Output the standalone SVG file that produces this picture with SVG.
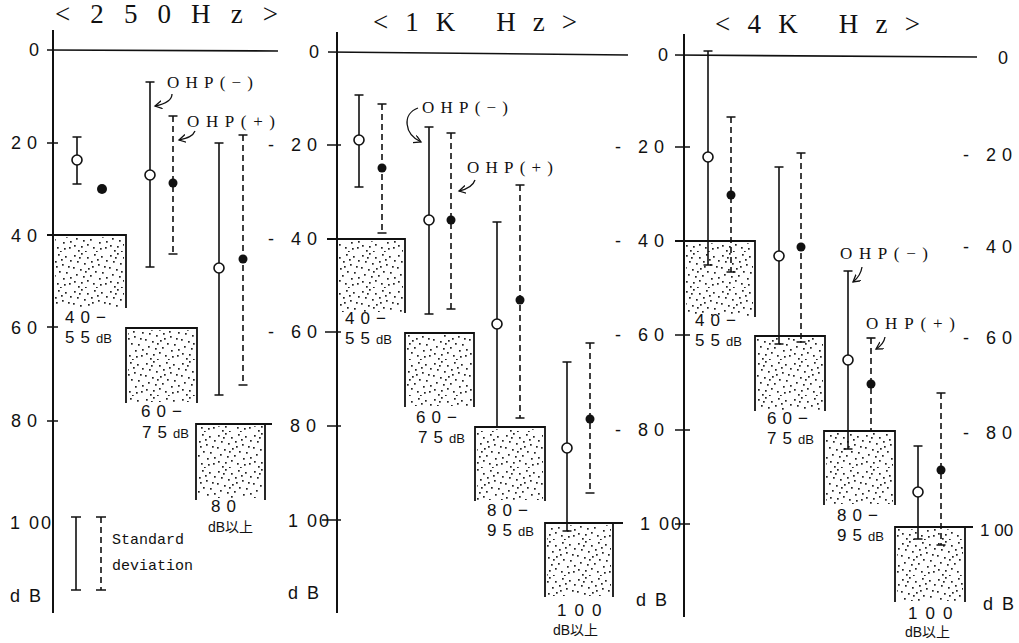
<svg xmlns="http://www.w3.org/2000/svg" width="1019" height="643" viewBox="0 0 1019 643">
<style>
.bg{fill:#fff}
.ax{stroke:#111;stroke-width:2;fill:none}
.tk{stroke:#111;stroke-width:1.6;fill:none}
.bx{stroke:#111;stroke-width:1.8;fill:none}
.sd{stroke:#111;stroke-width:1.6;fill:none}
.dd{stroke:#111;stroke-width:1.6;fill:none;stroke-dasharray:6 4}
.cap{stroke:#111;stroke-width:1.6;fill:none}
.oc{fill:#fff;stroke:#111;stroke-width:1.6}
.fc{fill:#111}
.st{fill:url(#dots)}
.num{font-family:"Liberation Sans",sans-serif;font-size:18px;letter-spacing:6px;fill:#111}
.lab{font-family:"Liberation Sans",sans-serif;font-size:17px;letter-spacing:6px;fill:#111}
.sm{font-family:"Liberation Sans","Noto Sans CJK JP",sans-serif;font-size:13px;letter-spacing:0;fill:#111}
.ttl{font-family:"Liberation Serif",serif;font-size:27px;fill:#111}
.ohp{font-family:"Liberation Serif",serif;font-size:17px;fill:#111}
.leg{font-family:"Liberation Mono",monospace;font-size:15px;fill:#111}
.arr{stroke:#111;stroke-width:1.3;fill:none;marker-end:url(#ah)}
</style>
<defs>
<pattern id="dots" patternUnits="userSpaceOnUse" width="36" height="36">
<g fill="#222">
<rect x="2" y="3" width="1.7" height="1.7"/><rect x="9" y="1" width="1.7" height="1.7"/><rect x="15" y="5" width="1.7" height="1.7"/><rect x="22" y="2" width="1.7" height="1.7"/><rect x="29" y="4" width="1.7" height="1.7"/><rect x="34" y="8" width="1.7" height="1.7"/><rect x="5" y="9" width="1.7" height="1.7"/><rect x="12" y="11" width="1.7" height="1.7"/><rect x="19" y="9" width="1.7" height="1.7"/><rect x="26" y="12" width="1.7" height="1.7"/><rect x="32" y="14" width="1.7" height="1.7"/><rect x="1" y="15" width="1.7" height="1.7"/><rect x="8" y="17" width="1.7" height="1.7"/><rect x="16" y="16" width="1.7" height="1.7"/><rect x="23" y="19" width="1.7" height="1.7"/><rect x="30" y="20" width="1.7" height="1.7"/><rect x="4" y="22" width="1.7" height="1.7"/><rect x="11" y="24" width="1.7" height="1.7"/><rect x="18" y="23" width="1.7" height="1.7"/><rect x="27" y="26" width="1.7" height="1.7"/><rect x="34" y="25" width="1.7" height="1.7"/><rect x="2" y="29" width="1.7" height="1.7"/><rect x="9" y="30" width="1.7" height="1.7"/><rect x="15" y="28" width="1.7" height="1.7"/><rect x="21" y="31" width="1.7" height="1.7"/><rect x="28" y="32" width="1.7" height="1.7"/><rect x="33" y="31" width="1.7" height="1.7"/><rect x="6" y="34" width="1.7" height="1.7"/><rect x="13" y="35" width="1.7" height="1.7"/><rect x="24" y="35" width="1.7" height="1.7"/><rect x="20" y="14" width="1.7" height="1.7"/><rect x="7" y="5" width="1.7" height="1.7"/><rect x="25" y="7" width="1.7" height="1.7"/><rect x="13" y="19" width="1.7" height="1.7"/>
</g>
</pattern>
<marker id="ah" markerUnits="userSpaceOnUse" markerWidth="10" markerHeight="10" refX="7" refY="4" orient="auto">
<path d="M0,0 L7,4 L0,8" fill="none" stroke="#111" stroke-width="1.3"/>
</marker>
</defs>
<rect class="bg" x="0" y="0" width="1019" height="643"/>

<!-- Panel 250 Hz -->
<g id="panel-250hz">
<text class="ttl" x="55" y="23" textLength="223" lengthAdjust="spacing">&lt;250Hz&gt;</text>
<g id="axis-250">
<path class="ax" d="M53,30 V613"/>
<path class="tk" d="M47,50 L278,51 M47,143 H58 M47,327 H58 M47,421 H58"/>
<text class="num" x="29" y="56">0</text>
<text class="num" x="11" y="149">20</text>
<text class="num" x="11" y="242">40</text>
<text class="num" x="11" y="334">60</text>
<text class="num" x="11" y="427">80</text>
<text class="num" x="10" y="529" style="letter-spacing:2px">1 00</text>
<text class="num" x="10" y="602" style="letter-spacing:2px">d B</text>
</g>
<g id="box-250-1">
<rect class="st" x="55" y="237" width="69" height="70"/>
<path class="bx" d="M47,235 H126 V308"/>
<text class="lab" x="65" y="323">40−</text>
<text class="lab" x="65" y="343">55<tspan class="sm">dB</tspan></text>
</g>
<g id="box-250-2">
<rect class="st" x="128" y="330" width="67" height="72"/>
<path class="bx" d="M126,403 V328 H197 V403"/>
<text class="lab" x="141" y="417">60−</text>
<text class="lab" x="142" y="438">75<tspan class="sm">dB</tspan></text>
</g>
<g id="box-250-3">
<rect class="st" x="198" y="426" width="65" height="72"/>
<path class="bx" d="M196,500 V424 H272 M265,424 V500"/>
<text class="lab" x="211" y="512">80</text>
<text class="sm" x="208" y="532" style="font-size:14px">dB以上</text>
</g>
<g id="data-250">
<path class="sd" d="M77,137 V184 M72.5,137 H81.5 M72.5,184 H81.5"/>
<circle class="oc" cx="77" cy="160" r="5"/>
<circle class="fc" cx="102" cy="189" r="5"/>
<path class="sd" d="M150,82 V267 M145.5,82 H154.5 M145.5,267 H154.5"/>
<circle class="oc" cx="150" cy="175" r="5"/>
<path class="dd" d="M173,116 V254"/><path class="cap" d="M168.5,116 H177.5 M168.5,254 H177.5"/>
<circle class="fc" cx="173" cy="183" r="4.5"/>
<path class="sd" d="M219,143 V395 M214.5,143 H223.5 M214.5,395 H223.5"/>
<circle class="oc" cx="219" cy="268" r="5"/>
<path class="dd" d="M243,135 V385"/><path class="cap" d="M238.5,135 H247.5 M238.5,385 H247.5"/>
<circle class="fc" cx="243" cy="259" r="4.5"/>
<text class="ohp" x="167" y="88" textLength="86" lengthAdjust="spacing">OHP(−)</text>
<text class="ohp" x="187" y="127" textLength="88" lengthAdjust="spacing">OHP(+)</text>
</g>
<g id="legend">
<path class="sd" d="M76,517 V590 M71,517 H81 M71,590 H81"/>
<path class="dd" d="M101,517 V590"/><path class="cap" d="M96,517 H106 M96,590 H106"/>
<text class="leg" x="112" y="544">Standard</text>
<text class="leg" x="112" y="570">deviation</text>
</g>
</g>

<!-- Panel 1K Hz -->
<g id="panel-1khz">
<text class="ttl" x="373" y="31" textLength="204" lengthAdjust="spacing">&lt;1K Hz&gt;</text>
<g id="axis-1k">
<path class="ax" d="M337,32 V613"/>
<path class="tk" d="M328,52 L628,55 M327,145 H341 M325,332 H341 M327,426 H341 M322,520 H341"/>
<text class="num" x="309" y="58">0</text>
<text class="num" x="268" y="151">- 20</text>
<text class="num" x="268" y="245">- 40</text>
<text class="num" x="268" y="338">- 60</text>
<text class="num" x="290" y="432">80</text>
<text class="num" x="288" y="527" style="letter-spacing:2px">1 00</text>
<text class="num" x="288" y="599" style="letter-spacing:2px">d B</text>
</g>
<g id="box-1k-1">
<rect class="st" x="339" y="241" width="64" height="71"/>
<path class="bx" d="M327,239 H405 V313"/>
<text class="lab" x="345" y="324">40−</text>
<text class="lab" x="345" y="344">55<tspan class="sm">dB</tspan></text>
</g>
<g id="box-1k-2">
<rect class="st" x="407" y="335" width="65" height="71"/>
<path class="bx" d="M405,407 V333 H474 V407"/>
<text class="lab" x="416" y="423">60−</text>
<text class="lab" x="418" y="443">75<tspan class="sm">dB</tspan></text>
</g>
<g id="box-1k-3">
<rect class="st" x="477" y="429" width="66" height="71"/>
<path class="bx" d="M475,501 V427 H545 V501"/>
<text class="lab" x="487" y="516">80−</text>
<text class="lab" x="487" y="536">95<tspan class="sm">dB</tspan></text>
</g>
<g id="box-1k-4">
<rect class="st" x="547" y="525" width="64" height="71"/>
<path class="bx" d="M545,597 V523 H623 M613,523 V597"/>
<text class="lab" x="557" y="616" style="letter-spacing:8px">100</text>
<text class="sm" x="553" y="635" style="font-size:14px">dB以上</text>
</g>
<g id="data-1k">
<path class="sd" d="M359,95 V187 M354.5,95 H363.5 M354.5,187 H363.5"/>
<circle class="oc" cx="359" cy="140" r="5"/>
<path class="dd" d="M382,104 V233"/><path class="cap" d="M377.5,104 H386.5 M377.5,233 H386.5"/>
<circle class="fc" cx="382" cy="168" r="4.5"/>
<path class="sd" d="M429,127 V314 M424.5,127 H433.5 M424.5,314 H433.5"/>
<circle class="oc" cx="429" cy="220" r="5"/>
<path class="dd" d="M451,133 V309"/><path class="cap" d="M446.5,133 H455.5 M446.5,309 H455.5"/>
<circle class="fc" cx="451" cy="220" r="4.5"/>
<path class="sd" d="M497,222 V427 M492.5,222 H501.5"/>
<circle class="oc" cx="497" cy="324" r="5"/>
<path class="dd" d="M520,185 V418"/><path class="cap" d="M515.5,185 H524.5 M515.5,418 H524.5"/>
<circle class="fc" cx="520" cy="300" r="4.5"/>
<path class="sd" d="M567,362 V531 M562.5,362 H571.5 M562.5,531 H571.5"/>
<circle class="oc" cx="567" cy="448" r="5"/>
<path class="dd" d="M590,343 V493"/><path class="cap" d="M585.5,343 H594.5 M585.5,493 H594.5"/>
<circle class="fc" cx="590" cy="419" r="4.5"/>
<text class="ohp" x="422" y="113" textLength="86" lengthAdjust="spacing">OHP(−)</text>
<text class="ohp" x="467" y="173" textLength="86" lengthAdjust="spacing">OHP(+)</text>
</g>
</g>

<!-- Panel 4K Hz -->
<g id="panel-4khz">
<text class="ttl" x="715" y="33" textLength="205" lengthAdjust="spacing">&lt;4K Hz&gt;</text>
<g id="axis-4k">
<path class="ax" d="M684,34 V617"/>
<path class="tk" d="M675,55 L977,57 M675,147 H690 M675,335 H690 M675,430 H690 M675,524 H690"/>
<text class="num" x="658" y="61">0</text>
<text class="num" x="615" y="153">- 20</text>
<text class="num" x="615" y="247">- 40</text>
<text class="num" x="615" y="341">- 60</text>
<text class="num" x="615" y="436">- 80</text>
<text class="num" x="640" y="530" style="letter-spacing:2px">1 00</text>
<text class="num" x="636" y="606" style="letter-spacing:2px">d B</text>
</g>
<g id="axis-4k-right">
<text class="num" x="998" y="64">0</text>
<text class="num" x="963" y="161">- 20</text>
<text class="num" x="963" y="253">- 40</text>
<text class="num" x="963" y="344">- 60</text>
<text class="num" x="963" y="439">- 80</text>
<text class="num" x="980" y="536" style="font-size:17px;letter-spacing:0">1 00</text>
<text class="num" x="983" y="610" style="letter-spacing:2px">d B</text>
</g>
<g id="box-4k-1">
<rect class="st" x="686" y="243" width="67" height="73"/>
<path class="bx" d="M675,241 H755 V317"/>
<text class="lab" x="695" y="326">40−</text>
<text class="lab" x="695" y="346">55<tspan class="sm">dB</tspan></text>
</g>
<g id="box-4k-2">
<rect class="st" x="757" y="338" width="66" height="72"/>
<path class="bx" d="M755,411 V336 H825 V411"/>
<text class="lab" x="767" y="424">60−</text>
<text class="lab" x="767" y="444">75<tspan class="sm">dB</tspan></text>
</g>
<g id="box-4k-3">
<rect class="st" x="826" y="433" width="67" height="71"/>
<path class="bx" d="M824,505 V431 H895 V505"/>
<text class="lab" x="837" y="521">80−</text>
<text class="lab" x="837" y="541">95<tspan class="sm">dB</tspan></text>
</g>
<g id="box-4k-4">
<rect class="st" x="897" y="529" width="66" height="72"/>
<path class="bx" d="M895,602 V527 H973 M965,527 V602"/>
<text class="lab" x="908" y="619" style="letter-spacing:8px">100</text>
<text class="sm" x="905" y="637" style="font-size:14px">dB以上</text>
</g>
<g id="data-4k">
<path class="sd" d="M708,51 V265 M703.5,51 H712.5 M703.5,265 H712.5"/>
<circle class="oc" cx="708" cy="157" r="5"/>
<path class="dd" d="M731,117 V272"/><path class="cap" d="M726.5,117 H735.5 M726.5,272 H735.5"/>
<circle class="fc" cx="731" cy="195" r="4.5"/>
<path class="sd" d="M779,167 V344 M774.5,167 H783.5 M774.5,344 H783.5"/>
<circle class="oc" cx="779" cy="256" r="5"/>
<path class="dd" d="M801,153 V342"/><path class="cap" d="M796.5,153 H805.5 M796.5,342 H805.5"/>
<circle class="fc" cx="801" cy="247" r="4.5"/>
<path class="sd" d="M848,271 V449 M843.5,271 H852.5 M843.5,449 H852.5"/>
<circle class="oc" cx="848" cy="360" r="5"/>
<path class="dd" d="M871,338 V431"/><path class="cap" d="M866.5,338 H875.5"/>
<circle class="fc" cx="871" cy="384" r="4.5"/>
<path class="sd" d="M918,446 V539 M913.5,446 H922.5 M913.5,539 H922.5"/>
<circle class="oc" cx="918" cy="492" r="5"/>
<path class="dd" d="M941,393 V545"/><path class="cap" d="M936.5,393 H945.5 M936.5,545 H945.5"/>
<circle class="fc" cx="941" cy="470" r="4.5"/>
<text class="ohp" x="840" y="259" textLength="88" lengthAdjust="spacing">OHP(−)</text>
<text class="ohp" x="866" y="329" textLength="89" lengthAdjust="spacing">OHP(+)</text>
</g>
</g>

<!-- connectors: label pointer arrows -->
<g id="connectors">
<path class="arr" d="M172,94 C172,101 165,104 155,106"/>
<path class="arr" d="M195,131 C193,136 188,138 179,140"/>
<path class="arr" d="M418,108 C402,114 404,134 421,142"/>
<path class="arr" d="M475,180 C473,186 468,189 459,191"/>
<path class="arr" d="M862,267 C861,274 858,278 853,282"/>
<path class="arr" d="M885,337 C884,343 881,346 876,349"/>
</g>
</svg>
